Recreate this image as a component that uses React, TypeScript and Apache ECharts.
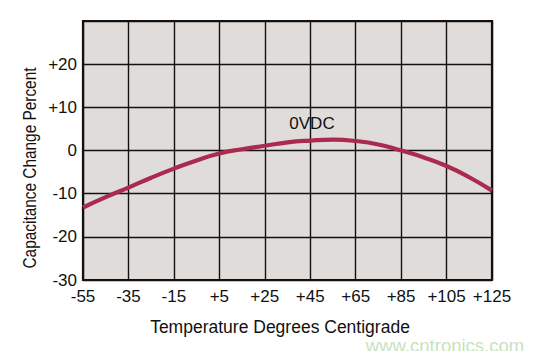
import React, { useEffect, useRef } from "react";
import * as echarts from "echarts";

const temperatures = [-55, -45, -35, -25, -15, -5, 5, 15, 25, 35, 45, 55, 65, 75, 85, 95, 105, 115, 125];
const capacitanceChange = [-13.2, -10.8, -8.6, -6.3, -4.2, -2.3, -0.7, 0.3, 1.1, 1.9, 2.3, 2.5, 2.2, 1.4, 0.0, -1.6, -3.6, -6.2, -9.3];
const xOffset = 55; // axis starts at -55
const seriesName = "0VDC";
const xTitle = "Temperature Degrees Centigrade";
const yTitle = "Capacitance Change Percent";
const watermark = "www.cntronics.com";

const fmtSigned = (v: number) => (v > 0 ? "+" + v : String(v));

export default function App() {
  const ref = useRef<HTMLDivElement>(null);
  useEffect(() => {
    if (!ref.current) return;
    const chart = echarts.init(ref.current, undefined, { renderer: "svg" });
    const font = "'Liberation Sans', Arial, sans-serif";
    chart.setOption({
      animation: false,
      backgroundColor: "#ffffff",
      grid: {
        left: 83,
        top: 21,
        right: 54,
        bottom: 79,
        show: true,
        backgroundColor: "#e0dcda",
        borderColor: "#111111",
        borderWidth: 2.2,
      },
      xAxis: {
        type: "value",
        min: 0,
        max: 180,
        interval: 20,
        axisLine: { show: false },
        axisTick: { show: false },
        splitLine: { show: true, lineStyle: { color: "#111111", width: 1.4 } },
        axisLabel: {
          color: "#111111",
          fontFamily: font,
          fontSize: 17,
          margin: 8,
          formatter: (v: number) => fmtSigned(v - xOffset),
        },
      },
      yAxis: {
        type: "value",
        min: -30,
        max: 30,
        interval: 10,
        axisLine: { show: false },
        axisTick: { show: false },
        splitLine: { show: true, lineStyle: { color: "#111111", width: 1.4 } },
        axisLabel: {
          color: "#111111",
          fontFamily: font,
          fontSize: 17,
          margin: 6,
          formatter: (v: number) => (v === 30 ? "" : fmtSigned(v)),
        },
      },
      series: [
        {
          name: seriesName,
          type: "line",
          smooth: true,
          showSymbol: false,
          data: temperatures.map((t, i) => [t + xOffset, capacitanceChange[i]]),
          lineStyle: { color: "#ab2a50", width: 4.2 },
        },
      ],
      graphic: [
        {
          type: "text",
          x: 312,
          y: 123,
          style: { text: seriesName, font: `17px ${font}`, fill: "#111111", align: "center", verticalAlign: "middle" },
        },
        {
          type: "text",
          x: 280,
          y: 327,
          style: { text: xTitle, font: `17.5px ${font}`, fill: "#111111", align: "center", verticalAlign: "middle" },
        },
        {
          type: "text",
          x: 30,
          y: 168,
          rotation: Math.PI / 2,
          scaleX: 0.88,
          style: { text: yTitle, font: `17.5px ${font}`, fill: "#111111", align: "center", verticalAlign: "middle" },
        },
        {
          type: "text",
          x: 445,
          y: 345,
          style: { text: watermark, font: `18.5px ${font}`, fill: "#c9e2c1", align: "center", verticalAlign: "middle" },
        },
      ],
    });
    return () => chart.dispose();
  }, []);
  return <div ref={ref} style={{ width: 546, height: 359, margin: -8 }} />;
}
